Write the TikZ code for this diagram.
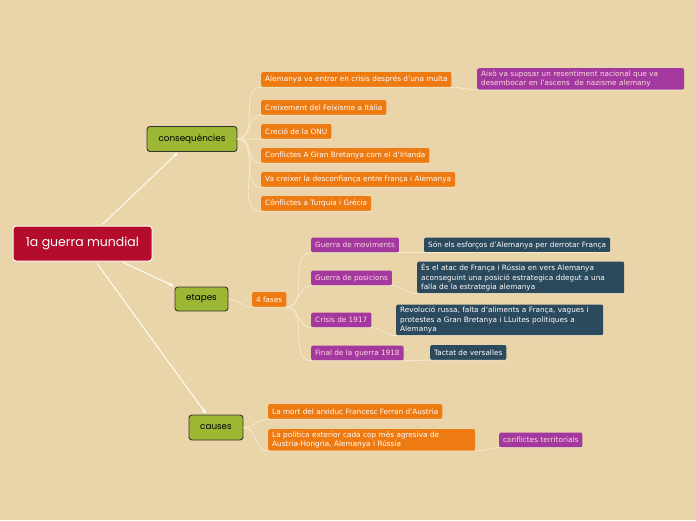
\documentclass[tikz,border=0pt]{standalone}
\usepackage{fontspec}
\setmainfont{DejaVu Sans}
\newfontfamily\topicfont{Poppins}
\usetikzlibrary{arrows.meta}
\definecolor{paper}{HTML}{E9D5A9}
\definecolor{rootred}{HTML}{B30C2C}
\definecolor{topicgreen}{HTML}{9BB733}
\definecolor{leaforange}{HTML}{EE7A12}
\definecolor{leafpurple}{HTML}{A3399F}
\definecolor{leafdark}{HTML}{2C4A5E}
\definecolor{linkcream}{HTML}{F4EAD0}

\begin{document}
\begin{tikzpicture}[x=1pt, y=-1pt]
\tikzstyle{every node}=[font=\fontsize{7.3}{9.3}\selectfont];
\tikzstyle{topic}=[draw=black!80, line width=0.9pt, fill=topicgreen, rounded corners=3pt, minimum height=25pt, inner xsep=8pt, font=\topicfont\fontsize{8.8}{10}\selectfont];
\tikzstyle{leaf}=[anchor=west, fill=leaforange, text=white, rounded corners=2pt, minimum height=15pt, inner xsep=4pt, inner ysep=2.5pt, align=left];
\tikzstyle{pleaf}=[leaf, fill=leafpurple, text=pink!60];
\tikzstyle{dleaf}=[leaf, fill=leafdark, text=white];
\tikzstyle{wide}=[text width=199pt];
\tikzstyle{link}=[draw=linkcream, line width=0.8pt];
\tikzstyle{mainarrow}=[draw=white, line width=0.9pt, -{Stealth[length=5pt,width=4pt]}, shorten <=2pt, shorten >=1pt];

\fill[paper] (0,0) rectangle (696,520);
\useasboundingbox (0,0) rectangle (696,520);

% central topic and main branches
\node[draw=white, line width=1pt, fill=rootred, text=white, rounded corners=3pt, minimum width=139pt, minimum height=35pt, font=\topicfont\fontsize{12.5}{14}\selectfont] (root) at (82.5,243.5) {1a guerra mundial};
\node[topic, minimum width=90pt] (cons) at (192,139) {consequències};
\node[topic, minimum width=53pt, minimum height=24pt] (etap) at (201.5,299) {etapes};
\node[topic, minimum width=54pt] (caus) at (216,427.5) {causes};

\draw[mainarrow] (root) -- (cons);
\draw[mainarrow] (root) -- (etap);
\draw[mainarrow] (root) -- (caus);

% consequencies
\foreach \i/\y/\t in {1/79.5/{Alemanya va entrar en crisis després d'una multa},
  2/107.5/{Creixement del Feixisme a Itàlia},
  3/131.5/{Creció de la ONU},
  4/155.5/{Conflictes A Gran Bretanya com el d'Irlanda},
  5/179.5/{Va creixer la desconfiança entre frança i Alemanya},
  6/203.5/{Cônflictes a Turquia i Grécia}}
{
\node[leaf] (c\i) at (261,\y) {\t};
\draw[link] (cons.east) to[out=0, in=180] (c\i.south west) -- (c\i.south east);
}
\node[pleaf, wide] (c1a) at (477,79) {Això va suposar un resentiment nacional que va\\desembocar en l'ascens~ de nazisme alemany};
\draw[link] (c1.south east) to[out=0, in=180] (c1a.south west) -- (c1a.south east);

% etapes
\node[leaf] (fases) at (252,299.5) {4 fases};
\draw[link] (etap.east) to[out=0, in=180] (fases.south west) -- (fases.south east);

\node[pleaf] (e1) at (311,245) {Guerra de moviments};
\node[pleaf] (e2) at (311,278) {Guerra de posicions};
\node[pleaf] (e3) at (311,320) {Crisis de 1917};
\node[pleaf] (e4) at (311,353) {Final de la guerra 1918};
\foreach \i in {1,...,4}
{
\draw[link] (fases.south east) to[out=0, in=180] (e\i.south west) -- (e\i.south east);
}
\node[dleaf] (d1) at (424,245) {Són els esforços d'Alemanya per derrotar França};
\node[dleaf, wide] (d2) at (417,277.5) {És el atac de França i Rússia en vers Alemanya\\aconseguint una posició estrategica ddegut a una\\falla de la estrategia alemanya};
\node[dleaf, wide] (d3) at (396,320) {Revolució russa, falta d'aliments a França, vagues i\\protestes a Gran Bretanya i LLuites politiques a\\Alemanya};
\node[dleaf] (d4) at (430,352.5) {Tactat de versalles};
\foreach \i in {1,...,4}
{
\draw[link] (e\i.south east) to[out=0, in=180] (d\i.south west) -- (d\i.south east);
}

% causes
\node[leaf] (k1) at (268,411.5) {La mort del arxiduc Francesc Ferran d'Austria};
\node[leaf, wide] (k2) at (268,440) {La política exterior cada cop més agresiva de\\Austria-Hongria, Alemanya i Rússia};
\draw[link] (caus.east) to[out=0, in=180] (k1.south west) -- (k1.south east);
\draw[link] (caus.east) to[out=0, in=180] (k2.south west) -- (k2.south east);
\node[pleaf] (k2a) at (499,440) {conflictes territorials};
\draw[link] (k2.south east) to[out=0, in=180] (k2a.south west) -- (k2a.south east);
\end{tikzpicture}
\end{document}
